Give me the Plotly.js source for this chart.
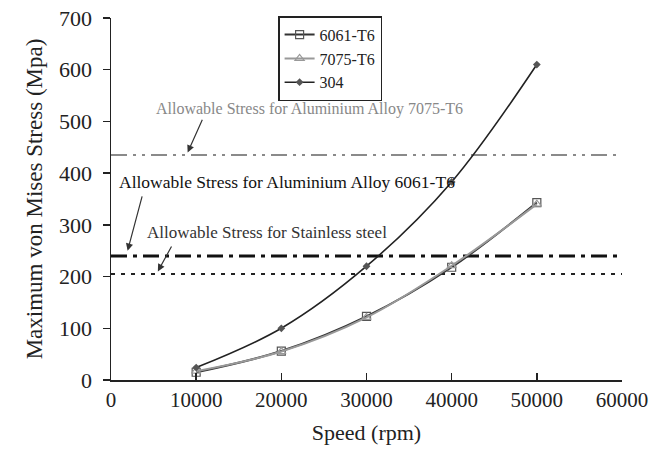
<!DOCTYPE html>
<html><head><meta charset="utf-8">
<script src="https://cdn.plot.ly/plotly-3.0.1.min.js"></script>
<style>body{margin:0;background:#fff}#c{width:670px;height:450px}</style>
</head><body><div id="c"></div>
<script>
const speed = [10000, 20000, 30000, 40000, 50000];
const s6061 = [15, 56, 123, 218, 343];
const s7075 = [17, 55, 121, 221, 340];
const s304 = [24, 100, 220, 383, 610];
const allow7075 = 435;
const allow6061 = 240;
const allowSteel = 205;
const xTicks = [0, 10000, 20000, 30000, 40000, 50000, 60000];
const yTicks = [0, 100, 200, 300, 400, 500, 600, 700];

const F = 'Liberation Serif, Times New Roman, serif';
const hline = (v, color, width, dash) => ({
  x: [0, 60000], y: [v, v], mode: 'lines', showlegend: false, hoverinfo: 'skip',
  line: {color: color, width: width, dash: dash}
});
const traces = [
  hline(allow7075, '#8a8a8a', 2, '16px,6px,3px,6px,3px,6px'),
  hline(allow6061, '#111', 3, '16px,6px,4px,6px'),
  hline(allowSteel, '#222', 2, '4px,6px'),
  {x: speed, y: s6061, name: '6061-T6', mode: 'lines+markers',
   line: {color: '#333', width: 2, shape: 'spline'},
   marker: {symbol: 'square-open', size: 8, color: '#555', line: {width: 1.2}}},
  {x: speed, y: s7075, name: '7075-T6', mode: 'lines+markers',
   line: {color: '#999', width: 2, shape: 'spline'},
   marker: {symbol: 'triangle-up-open', size: 8, color: '#999', line: {width: 1.2}}},
  {x: speed, y: s304, name: '304', mode: 'lines+markers',
   line: {color: '#222', width: 1.6, shape: 'spline'},
   marker: {symbol: 'diamond', size: 6, color: '#555'}}
];

const arrow = (x0, y0, x1, y1) => ({
  x: x1, y: y1, ax: x0, ay: y0, xref: 'x', yref: 'y', axref: 'x', ayref: 'y',
  text: '', showarrow: true, arrowhead: 2, arrowsize: 1.2, arrowwidth: 1.2, arrowcolor: '#333'
});
const label = (x, y, t, color, size) => ({
  x: x, y: y, xref: 'x', yref: 'y', text: t, showarrow: false,
  xanchor: 'left', yanchor: 'middle', font: {family: F, size: size, color: color}
});

const layout = {
  width: 670, height: 450,
  margin: {l: 111, r: 48, t: 18, b: 70},
  paper_bgcolor: '#fff', plot_bgcolor: '#fff',
  font: {family: F, color: '#222'},
  showlegend: true,
  legend: {x: 0.327, y: 1.005, xanchor: 'left', yanchor: 'top',
    bgcolor: '#fff', bordercolor: '#222', borderwidth: 1.5,
    font: {family: F, size: 16, color: '#222'}, tracegroupgap: 0, itemwidth: 30},
  xaxis: {range: [0, 60000], tickvals: xTicks, ticktext: xTicks.map(String),
    showgrid: false, zeroline: false, showline: true, linecolor: '#222', linewidth: 1.5,
    ticks: 'inside', ticklen: 7, tickcolor: '#222', tickwidth: 1.5,
    tickfont: {family: F, size: 21, color: '#222'},
    title: {text: 'Speed (rpm)', font: {family: F, size: 22, color: '#222'}, standoff: 14}},
  yaxis: {range: [0, 700], tickvals: yTicks, ticktext: yTicks.map(String),
    showgrid: false, zeroline: false, showline: true, linecolor: '#222', linewidth: 1.5,
    ticks: 'outside', ticklen: 7, tickcolor: '#222', tickwidth: 1.5,
    ticklabelstandoff: 6,
    tickfont: {family: F, size: 22, color: '#222'},
    title: {text: 'Maximum von Mises Stress (Mpa)', font: {family: F, size: 23, color: '#222'}, standoff: 10}},
  annotations: [
    label(5000, 524, 'Allowable Stress for Aluminium Alloy 7075-T6', '#888', 16),
    label(700, 383, 'Allowable Stress for Aluminium Alloy 6061-T6', '#111', 17.5),
    label(4000, 286, 'Allowable Stress for Stainless steel', '#333', 17),
    arrow(10800, 506, 9000, 440),
    arrow(3700, 358, 1950, 250),
    arrow(7200, 261, 5500, 210)
  ]
};
Plotly.newPlot('c', traces, layout, {displayModeBar: false, staticPlot: true});
</script></body></html>
